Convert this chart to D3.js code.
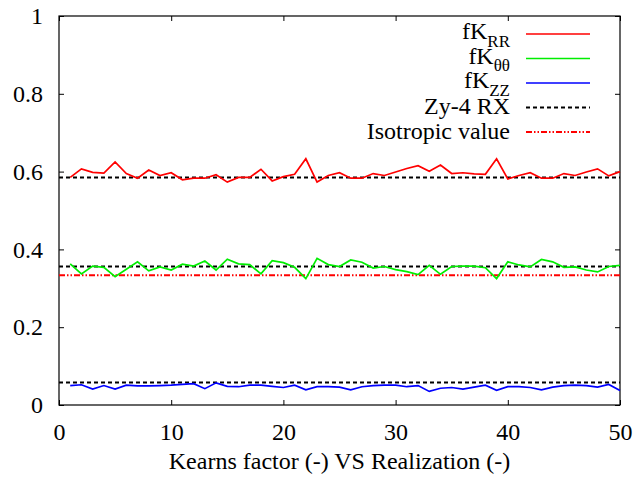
<!DOCTYPE html>
<html><head><meta charset="utf-8">
<script src="https://cdn.jsdelivr.net/npm/d3@7"></script>
<style>body{margin:0;background:#fff}svg{display:block}svg text{font-family:'Liberation Serif','Times New Roman',serif}</style>
</head><body><svg id="c" width="638" height="481" font-family="Liberation Serif, Times New Roman, serif"></svg>
<script>
const realization = d3.range(1, 51);
const fKRR = [0.585,0.607,0.598,0.596,0.625,0.595,0.583,0.604,0.590,0.597,0.579,0.583,0.583,0.592,0.573,0.585,0.585,0.606,0.576,0.587,0.593,0.633,0.573,0.590,0.597,0.583,0.583,0.595,0.590,0.599,0.608,0.615,0.601,0.617,0.595,0.597,0.594,0.593,0.633,0.581,0.590,0.597,0.583,0.583,0.595,0.590,0.599,0.607,0.589,0.600];
const fKTT = [0.363,0.337,0.357,0.354,0.330,0.349,0.368,0.345,0.355,0.347,0.362,0.357,0.370,0.347,0.375,0.363,0.361,0.337,0.371,0.366,0.354,0.325,0.377,0.361,0.356,0.373,0.367,0.352,0.356,0.348,0.343,0.335,0.359,0.336,0.356,0.357,0.357,0.353,0.325,0.368,0.360,0.355,0.374,0.368,0.354,0.355,0.347,0.342,0.356,0.359];
const fKZZ = [0.050,0.052,0.041,0.050,0.041,0.051,0.049,0.049,0.050,0.051,0.053,0.055,0.042,0.057,0.048,0.047,0.051,0.051,0.048,0.045,0.051,0.039,0.047,0.047,0.046,0.039,0.047,0.050,0.051,0.051,0.047,0.050,0.035,0.043,0.045,0.041,0.046,0.051,0.038,0.047,0.047,0.045,0.039,0.046,0.050,0.051,0.050,0.046,0.053,0.037];
const zy4RX = [0.585, 0.356, 0.058];
const isotropic = 1/3;
const xTicks = [0,10,20,30,40,50];
const yTicks = [0,0.2,0.4,0.6,0.8,1];
const xLabel = "Kearns factor (-) VS Realization (-)";

const FONT = "'Liberation Serif', 'Times New Roman', serif";
const L=59, R=620, T=16, B=405;
const svg = d3.select("#c");
const x = d3.scaleLinear().domain([0,50]).range([L,R]);
const y = d3.scaleLinear().domain([0,1]).range([B,T]);

const fs = "24px";
const gx = svg.append("g").attr("transform",`translate(0,${B})`)
  .call(d3.axisBottom(x).tickValues(xTicks).tickFormat(d3.format("d")).tickSizeInner(-5).tickSizeOuter(0).tickPadding(18));
const gxt = svg.append("g").attr("transform",`translate(0,${T})`)
  .call(d3.axisTop(x).tickValues(xTicks).tickFormat("").tickSizeInner(-5).tickSizeOuter(0));
const gy = svg.append("g").attr("transform",`translate(${L},0)`)
  .call(d3.axisLeft(y).tickValues(yTicks).tickFormat(d=>d===0||d===1?d3.format("d")(d):d3.format(".1f")(d)).tickSizeInner(-5).tickSizeOuter(0).tickPadding(16));
const gyr = svg.append("g").attr("transform",`translate(${R},0)`)
  .call(d3.axisRight(y).tickValues(yTicks).tickFormat("").tickSizeInner(-5).tickSizeOuter(0));
[gx,gxt,gy,gyr].forEach(g=>{g.attr("font-family",FONT).attr("font-size",null);g.select(".domain").remove();g.selectAll("line").attr("stroke","#000");g.selectAll("text").style("font-size",fs).style("font-family",FONT).attr("font-family",FONT).attr("fill","#000");});

svg.append("rect").attr("x",L).attr("y",T).attr("width",R-L).attr("height",B-T)
  .attr("fill","none").attr("stroke","#000").attr("stroke-width",1.2);

svg.append("text").attr("x",(L+R)/2).attr("y",469).attr("text-anchor","middle").attr("font-family",FONT).style("font-size",fs).style("font-family",FONT).text(xLabel);

const dashRef = "4,3";
const dashIso = "6,2,1.5,2,1.5,2";
zy4RX.forEach(v=>{
  svg.append("line").attr("x1",x(0)).attr("x2",x(50)).attr("y1",y(v)).attr("y2",y(v))
    .attr("stroke","#000").attr("stroke-width",2).attr("stroke-dasharray",dashRef);
});
svg.append("line").attr("x1",x(0)).attr("x2",x(50)).attr("y1",y(isotropic)).attr("y2",y(isotropic))
  .attr("stroke","#ff0000").attr("stroke-width",2).attr("stroke-dasharray",dashIso);

const line = d3.line().x((d,i)=>x(realization[i])).y(d=>y(d));
const series = [{v:fKRR,c:"#ff0000"},{v:fKTT,c:"#00ee00"},{v:fKZZ,c:"#0000ff"}];
series.forEach(s=>{
  svg.append("path").attr("d",line(s.v)).attr("fill","none").attr("stroke",s.c).attr("stroke-width",1.7);
});

const ly0 = 34, ldy = 24.5, ltx = 510, lx1 = 526, lx2 = 590;
const legendItems = [
  {t:"fK",sub:"RR",c:"#ff0000",dash:null},
  {t:"fK",sub:"θθ",c:"#00ee00",dash:null},
  {t:"fK",sub:"ZZ",c:"#0000ff",dash:null},
  {t:"Zy-4 RX",sub:null,c:"#000",dash:dashRef},
  {t:"Isotropic value",sub:null,c:"#ff0000",dash:dashIso}
];
legendItems.forEach((it,i)=>{
  const yy = ly0 + i*ldy;
  const tx = svg.append("text").attr("x",ltx).attr("y",yy+(it.sub?5:6.5)).attr("text-anchor","end").attr("font-family",FONT).style("font-size",fs).style("font-family",FONT);
  tx.append("tspan").text(it.t);
  if(it.sub) tx.append("tspan").attr("dy",7.5).style("font-size","17px").text(it.sub);
  svg.append("line").attr("x1",lx1).attr("x2",lx2).attr("y1",yy).attr("y2",yy)
    .attr("stroke",it.c).attr("stroke-width",it.dash?2:1.7).attr("stroke-dasharray",it.dash);
});
</script></body></html>
